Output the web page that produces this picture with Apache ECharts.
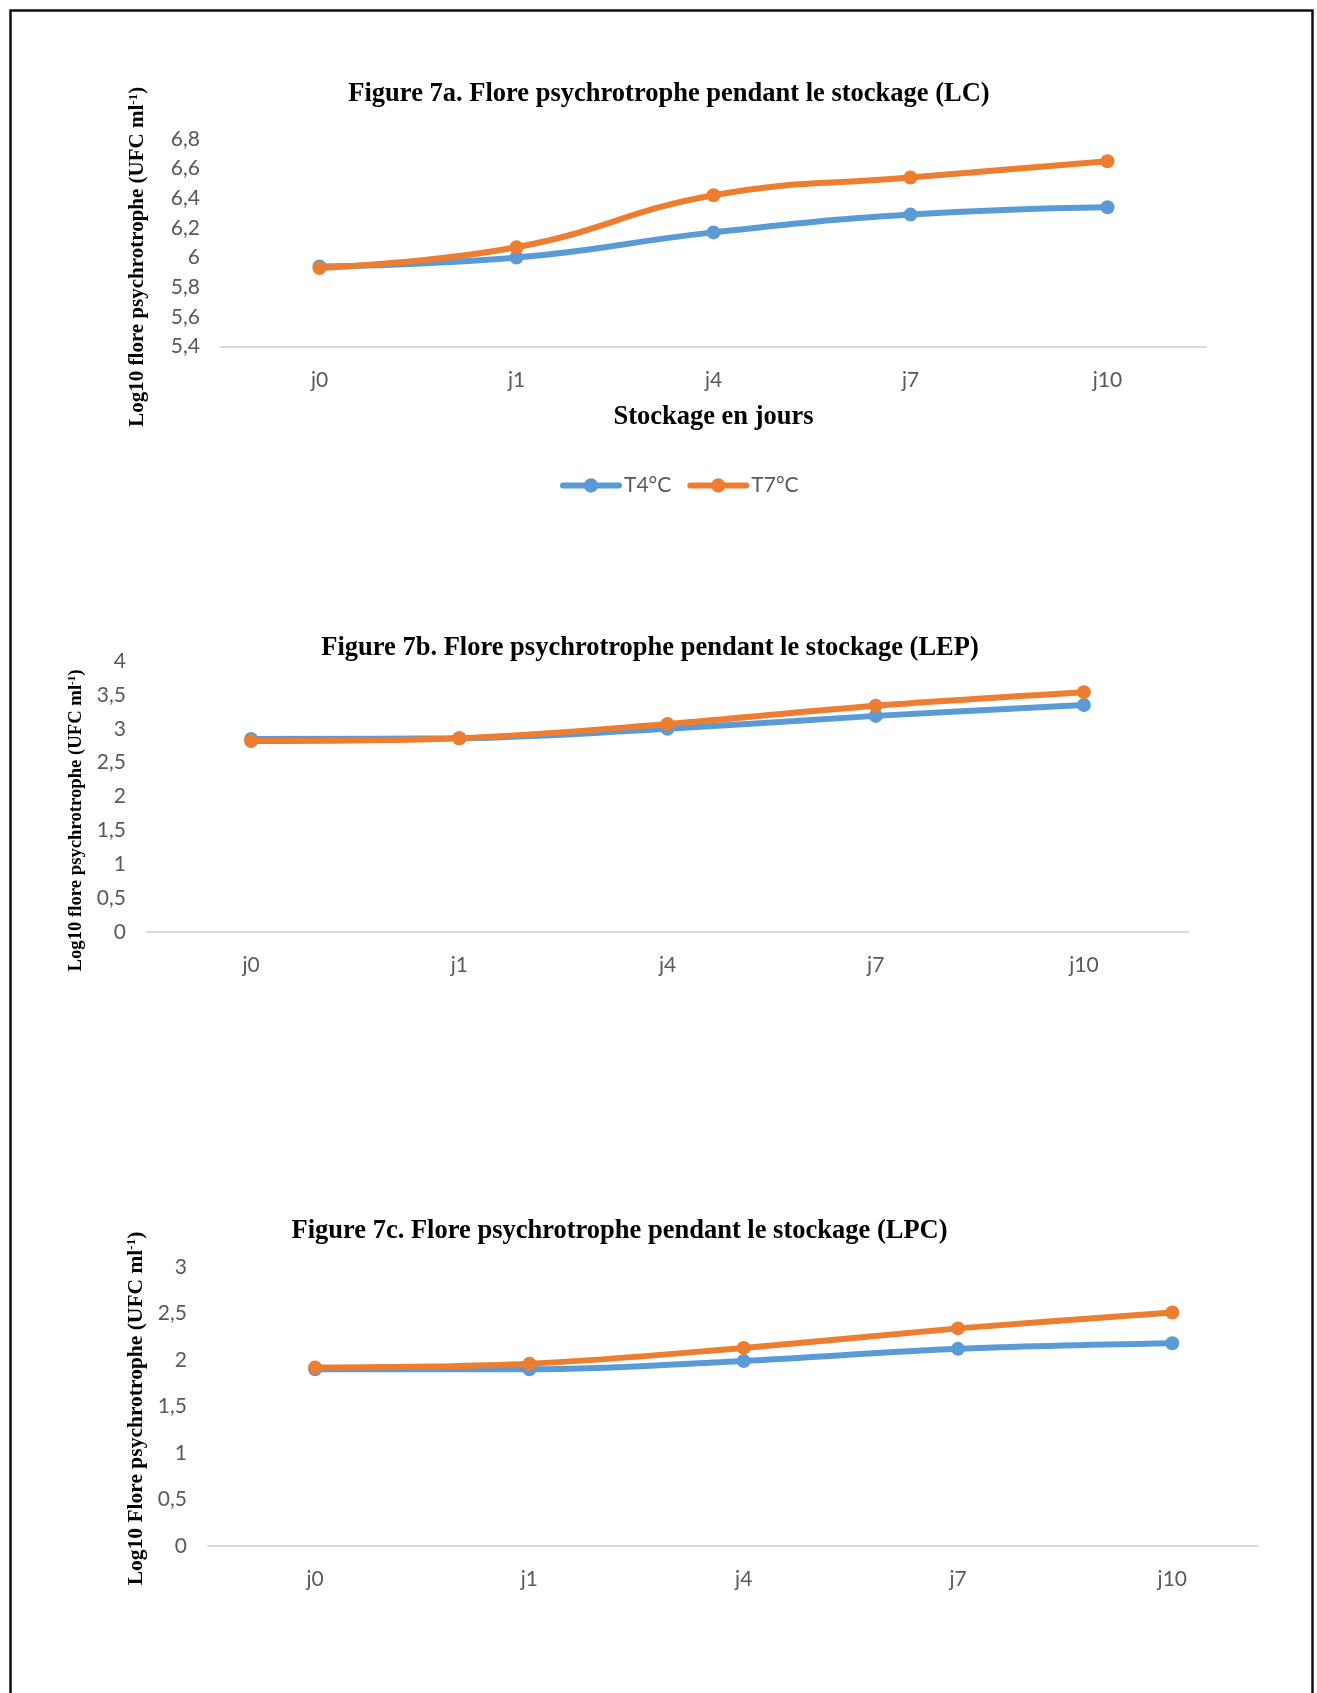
<!DOCTYPE html>
<html>
<head>
<meta charset="utf-8">
<title>Flore psychrotrophe pendant le stockage</title>
<script src="https://cdn.jsdelivr.net/npm/echarts@6/dist/echarts.min.js"></script>
<style>
  html, body { margin: 0; padding: 0; background: #fff; }
  #chart { width: 1317px; height: 1693px; }
</style>
</head>
<body>
<div id="chart"></div>
<script>
// Storage days (x categories)
const categories = ['j0', 'j1', 'j4', 'j7', 'j10'];
const seriesNames = ['T4°C', 'T7°C'];

// Log10 psychrotrophic counts — LC
const lcT4 = [5.94, 6.00, 6.17, 6.29, 6.34];
const lcT7 = [5.93, 6.07, 6.42, 6.54, 6.65];
// LEP
const lepT4 = [2.85, 2.86, 3.00, 3.19, 3.35];
const lepT7 = [2.82, 2.86, 3.07, 3.34, 3.54];
// LPC
const lpcT4 = [1.90, 1.90, 1.99, 2.12, 2.18];
const lpcT7 = [1.92, 1.96, 2.13, 2.34, 2.51];

const titles = [
  'Figure 7a. Flore psychrotrophe pendant le stockage (LC)',
  'Figure 7b. Flore psychrotrophe pendant le stockage (LEP)',
  'Figure 7c. Flore psychrotrophe pendant le stockage (LPC)'
];
const yNames = [
  ['Log10 flore psychrotrophe (UFC ml', ')'],
  ['Log10 flore psychrotrophe (UFC ml', ')'],
  ['Log10 Flore psychrotrophe (UFC ml', ')']
];
const xName = 'Stockage en jours';

const BLUE = '#5B9BD5';
const ORANGE = '#ED7D31';
const GREY = '#595959';
const SERIF = '"Liberation Serif", "Times New Roman", serif';
const SANS = 'Lato, "Open Sans", sans-serif';

const chart = echarts.init(document.getElementById('chart'), null, { renderer: 'canvas' });

const fmtComma = v => String(Math.round(v * 10) / 10).replace('.', ',');

// panel layout: grid box, y range, x extent, name placement
const panels = [
  { grid: { left: 221, top: 139, width: 985, height: 207.5 }, yMin: 5.4, yMax: 6.8, yStep: 0.2,
    xMax: 4.5, titleX: 669, titleY: 81, yFont: 21, yGap: 73, yShift: 28, data: [lcT4, lcT7], smooth: 0.45 },
  { grid: { left: 147, top: 661, width: 1041, height: 271 }, yMin: 0, yMax: 4, yStep: 0.5,
    xMax: 4.5, titleX: 650, titleY: 635, yFont: 18.7, yGap: 47, yShift: 48, data: [lepT4, lepT7], smooth: 0.35 },
  { grid: { left: 208, top: 1267, width: 1050, height: 279 }, yMin: 0, yMax: 3, yStep: 0.5,
    xMax: 4.4, titleX: 619.5, titleY: 1218, yFont: 21.5, yGap: 47, yShift: 4, data: [lpcT4, lpcT7], smooth: 0.35 }
];

const option = {
  animation: false,
  backgroundColor: '#fff',
  title: panels.map((p, i) => ({
    text: titles[i],
    left: p.titleX,
    top: p.titleY,
    textAlign: 'center',
    padding: 0,
    textStyle: { fontFamily: SERIF, fontWeight: 'bold', fontSize: 26.5, color: '#000' }
  })),
  legend: {
    data: seriesNames,
    left: 560,
    top: 475,
    itemWidth: 56,
    itemHeight: 18,
    itemGap: 16,
    padding: 0,
    lineStyle: { width: 6, cap: 'round' },
    textStyle: { fontFamily: SANS, fontSize: 21, color: GREY }
  },
  grid: panels.map(p => Object.assign({ containLabel: false }, p.grid)),
  xAxis: panels.map((p, i) => ({
    type: 'value',
    gridIndex: i,
    min: -0.5,
    max: p.xMax,
    splitLine: { show: false },
    axisTick: { show: false },
    axisLine: { show: true, onZero: false, lineStyle: { color: '#D9D9D9', width: 2 } },
    axisLabel: {
      customValues: categories.map((c, k) => k),
      formatter: v => categories[Math.round(v)],
      fontFamily: SANS, fontSize: 21, color: GREY, margin: 23
    },
    name: i === 0 ? xName : '',
    nameLocation: 'middle',
    nameGap: 57,
    nameTextStyle: { fontFamily: SERIF, fontWeight: 'bold', fontSize: 26.5, color: '#000' }
  })),
  yAxis: panels.map((p, i) => ({
    type: 'value',
    gridIndex: i,
    min: p.yMin,
    max: p.yMax,
    interval: p.yStep,
    splitLine: { show: false },
    axisLine: { show: false },
    axisTick: { show: false },
    axisLabel: { formatter: fmtComma, fontFamily: SANS, fontSize: 21, color: GREY, margin: 21 },
    name: '{a|' + yNames[i][0] + '}{s|-1}{a|' + yNames[i][1] + '}',
    nameLocation: 'middle',
    nameGap: p.yGap,
    nameTextStyle: {
      padding: [0, p.yShift, 0, 0],
      rich: {
        a: { fontFamily: SERIF, fontWeight: 'bold', fontSize: p.yFont, color: '#000' },
        s: { fontFamily: SERIF, fontWeight: 'bold', fontSize: Math.round(p.yFont * 0.6), color: '#000', verticalAlign: 'top' }
      }
    }
  })),
  series: [],
  graphic: [
    {
      type: 'rect',
      shape: { x: 10.5, y: 10.5, width: 1302, height: 1730 },
      style: { fill: 'none', stroke: '#111', lineWidth: 2.5 },
      silent: true,
      z: 100
    }
  ]
};

panels.forEach((p, i) => {
  [BLUE, ORANGE].forEach((color, s) => {
    option.series.push({
      name: seriesNames[s],
      type: 'line',
      xAxisIndex: i,
      yAxisIndex: i,
      smooth: p.smooth,
      data: p.data[s].map((v, k) => [k, v]),
      symbol: 'circle',
      symbolSize: 14,
      lineStyle: { color, width: 6, cap: 'round' },
      itemStyle: { color },
      z: 2 + s
    });
  });
});

chart.setOption(option);
</script>
</body>
</html>
